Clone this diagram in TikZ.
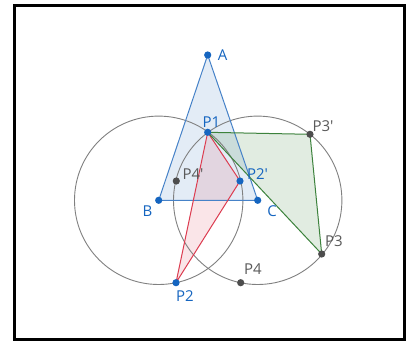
\documentclass[tikz,border=0pt]{standalone}
\usepackage{fontspec}
\newfontfamily\labfont{Open Sans}
\definecolor{ggblue}{RGB}{21,101,192}
\definecolor{triblue}{RGB}{70,130,200}
\definecolor{ggred}{RGB}{220,60,80}
\definecolor{gggreen}{RGB}{60,130,60}
\definecolor{gggray}{RGB}{77,77,77}
\definecolor{labgray}{RGB}{90,90,90}
\definecolor{circgray}{RGB}{128,128,128}
\tikzset{
  bpt/.style={circle,fill=ggblue,inner sep=0pt,minimum size=7.2pt},
  gpt/.style={circle,fill=gggray,inner sep=0pt,minimum size=7.2pt},
  blab/.style={text=ggblue,font=\labfont\fontsize{15}{15}\selectfont,inner sep=0pt},
  glab/.style={text=labgray,font=\labfont\fontsize{15}{15}\selectfont,inner sep=0pt},
  circ/.style={draw=circgray,line width=0.9pt},
}
\begin{document}
\begin{tikzpicture}[x=1pt,y=-1pt]
\useasboundingbox (0,0) rectangle (408,345);
\fill[white] (0,0) rectangle (408,345);
\draw[black,line width=2.5pt] (14.5,5.5) rectangle (404.5,339.5);
% coordinates
\coordinate (a) at (207.7,55);
\coordinate (b) at (158.7,200.3);
\coordinate (c) at (257.7,200.3);
\coordinate (p1) at (207.7,132.3);
\coordinate (p2s) at (240,181);
\coordinate (p4s) at (176.3,181);
\coordinate (p3s) at (310,134.3);
\coordinate (p3) at (321.7,254);
\coordinate (p2) at (176,282.7);
\coordinate (p4) at (240.7,282.7);
% fills
\fill[triblue,fill opacity=0.15] (a) -- (b) -- (c) -- cycle;
\fill[ggred,fill opacity=0.13] (p1) -- (p2s) -- (p2) -- cycle;
\fill[gggreen,fill opacity=0.15] (p1) -- (p3s) -- (p3) -- cycle;
% circles
\draw[circ] (b) circle (84.2);
\draw[circ] (c) circle (84.2);
% polygons
\draw[triblue,line width=1pt,line join=round] (a) -- (b) -- (c) -- cycle;
\draw[ggred,line width=1pt,line join=round] (p1) -- (p2s) -- (p2) -- cycle;
\draw[gggreen,line width=1pt,line join=round] (p1) -- (p3s) -- (p3) -- cycle;
% points
\node[bpt] (A) at (a) {};
\node[bpt] (B) at (b) {};
\node[bpt] (C) at (c) {};
\node[bpt] (P1) at (p1) {};
\node[bpt] (P2s) at (p2s) {};
\node[bpt] (P2) at (p2) {};
\node[gpt] (P4s) at (p4s) {};
\node[gpt] (P3s) at (p3s) {};
\node[gpt] (P3) at (p3) {};
\node[gpt] (P4) at (p4) {};
% labels
\node[blab] (lA) at (222.5,55.5) {A};
\node[blab] (lB) at (147.5,211) {B};
\node[blab] (lC) at (272,211) {C};
\node[blab] (lP1) at (211.5,122.5) {P1};
\node[blab] (lP2s) at (257.5,174) {P2'};
\node[blab] (lP2) at (185,296.5) {P2};
\node[glab] (lP4s) at (193,174) {P4'};
\node[glab] (lP3s) at (323,126) {P3'};
\node[glab] (lP3) at (334,241) {P3};
\node[glab] (lP4) at (253,269.5) {P4};
\end{tikzpicture}
\end{document}
